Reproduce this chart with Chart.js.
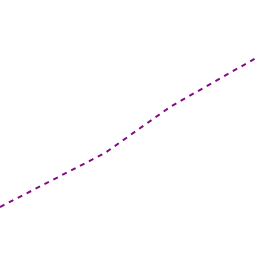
<!DOCTYPE html>
<html>
<head>
<meta charset="utf-8">
<script src="https://cdn.jsdelivr.net/npm/chart.js@4"></script>
<style>
  html, body { margin: 0; padding: 0; background: #fff; }
  #wrap { width: 256px; height: 256px; }
</style>
</head>
<body>
<div id="wrap"><canvas id="line-chart"></canvas></div>
<script>
const xValues = [0, 105, 170, 256];
const yValues = [49, 103, 149, 198];

const points = xValues.map((x, i) => ({ x: x, y: yValues[i] }));

new Chart(document.getElementById('line-chart').getContext('2d'), {
  type: 'line',
  data: {
    datasets: [
      {
        data: points,
        borderColor: '#850a85',
        borderWidth: 2,
        borderDash: [5, 5],
        pointRadius: 0,
        fill: false,
        tension: 0,
      },
    ],
  },
  options: {
    responsive: true,
    maintainAspectRatio: false,
    animation: false,
    layout: { padding: 0 },
    plugins: { legend: { display: false }, tooltip: { enabled: false } },
    scales: {
      x: { type: 'linear', min: 0, max: 256, display: false },
      y: { min: 0, max: 256, display: false },
    },
  },
});
</script>
</body>
</html>
